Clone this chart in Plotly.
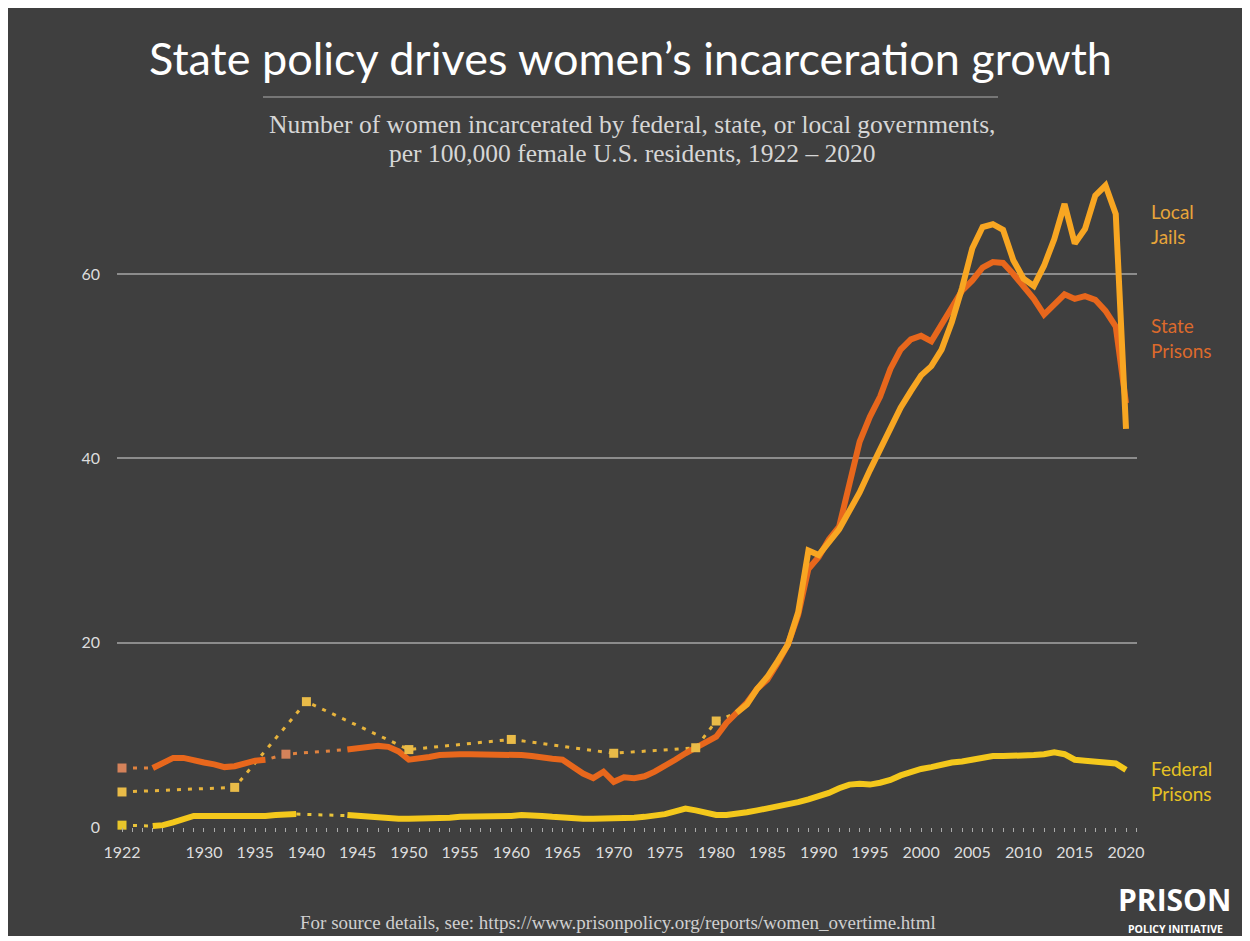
import plotly.graph_objects as go

# ---------------- data (per 100,000 female U.S. residents) ----------------
state_years_a = list(range(1925, 1937))
state_vals_a = [6.4, 7.0, 7.5, 7.5, 7.2, 7.0, 6.8, 6.5, 6.6, 6.9, 7.2, 7.3]
state_years_b = list(range(1944, 2021))
state_vals_b = [8.4, 8.5, 8.6, 8.8, 8.7, 8.2,
                7.3, 7.4, 7.6, 7.8, 7.9, 7.9, 7.9, 7.9, 7.8, 7.8,
                7.8, 7.8, 7.7, 7.5, 7.4, 7.3, 6.6, 5.8, 5.3, 6.0,
                4.9, 5.4, 5.3, 5.5, 6.0, 6.6, 7.3, 8.0, 8.6, 9.1,
                9.8, 11.3, 12.4, 13.5, 15.0, 16.0, 17.8, 19.8, 23.0, 28.0,
                29.3, 31.2, 32.6, 37.5, 41.8, 44.5, 46.7, 49.7, 51.8, 52.9,
                53.3, 52.7, 54.5, 56.6, 58.2, 59.3, 60.7, 61.3, 61.2, 60.0,
                58.7, 57.3, 55.6, 56.8, 57.8, 57.3, 57.6, 57.2, 56.0, 54.3, 46.0]
state_point_years = [1922, 1938]
state_point_vals = [6.4, 7.9]

federal_years_a = list(range(1925, 1940))
federal_vals_a = [0.1, 0.2, 0.5, 0.9, 1.2, 1.2, 1.2, 1.1, 1.1, 1.1, 1.2, 1.2, 1.3, 1.3, 1.4]
federal_years_b = list(range(1944, 2021))
federal_vals_b = [1.3, 1.2, 1.1, 1.0, 1.0, 0.9,
                  0.9, 0.9, 0.9, 1.0, 1.0, 1.1, 1.1, 1.1, 1.2, 1.2,
                  1.2, 1.3, 1.3, 1.2, 1.1, 1.0, 1.0, 0.9, 0.9, 0.9,
                  0.9, 1.0, 1.0, 1.1, 1.2, 1.4, 1.7, 2.0, 1.8, 1.5,
                  1.3, 1.3, 1.4, 1.6, 1.8, 2.0, 2.3, 2.5, 2.7, 3.0,
                  3.3, 3.7, 4.2, 4.6, 4.7, 4.6, 4.8, 5.1, 5.6, 6.0,
                  6.3, 6.5, 6.8, 7.0, 7.1, 7.3, 7.5, 7.7, 7.7, 7.7,
                  7.7, 7.8, 7.9, 8.1, 7.9, 7.3, 7.2, 7.1, 7.0, 6.9, 6.2]
federal_point_years = [1922]
federal_point_vals = [0.2]

jail_point_years = [1922, 1933, 1940, 1950, 1960, 1970, 1978, 1980]
jail_point_vals = [3.8, 4.3, 13.6, 8.4, 9.5, 8.0, 8.6, 11.5]
jail_years = list(range(1982, 2021))
jail_vals = [12.4, 13.3, 15.0, 16.3, 18.0, 19.8, 23.3, 30.0,
             29.5, 31.0, 32.3, 34.3, 36.3, 38.7, 40.9, 43.1, 45.5, 47.3,
             49.0, 50.0, 51.8, 54.8, 58.5, 62.8, 65.1, 65.4, 64.8, 61.5,
             59.5, 58.7, 60.9, 63.8, 67.6, 63.3, 64.9, 68.5, 69.6, 66.5, 43.2]

x_tick_vals = [1922, 1930, 1935, 1940, 1945, 1950, 1955, 1960, 1965, 1970,
               1975, 1980, 1985, 1990, 1995, 2000, 2005, 2010, 2015, 2020]
y_tick_vals = [0, 20, 40, 60]
y_grid_vals = [20, 40, 60]

# ---------------- styling ----------------
OFF = 8                      # page margin of the browser
W, H = 1235, 928
PL, PR, PT, PB = 117, 1137, 170, 840   # plot area in reference pixels
L, R, T, B = PL - OFF, W - (PR - OFF), PT - OFF, H - (PB - OFF)
BG = "#3f3f3f"
C_STATE = "#e8671c"
C_JAIL = "#f8a622"
C_FED = "#f4c81c"


def px2x(px):
    return (px - OFF - L) / (W - L - R)


def py2y(py):
    return (H - B - (py - OFF)) / (H - T - B)


def all_points(*pairs):
    pts = []
    for ys, vs in pairs:
        pts.extend(zip(ys, vs))
    pts.sort()
    return [p[0] for p in pts], [p[1] for p in pts]


fig = go.Figure()

# dotted connectors through every data point (visible only across gaps)
for pairs, col in [
    ([(state_point_years, state_point_vals), (state_years_a, state_vals_a), (state_years_b, state_vals_b)], "#e0823f"),
    ([(federal_point_years, federal_point_vals), (federal_years_a, federal_vals_a), (federal_years_b, federal_vals_b)], "#e9c43a"),
    ([(jail_point_years, jail_point_vals), (jail_years[:1], jail_vals[:1])], "#e8b43c"),
]:
    xs, ys = all_points(*pairs)
    fig.add_trace(go.Scatter(x=xs, y=ys, mode="lines", hoverinfo="skip", showlegend=False,
                             line=dict(color=col, width=3, dash="4px,7px")))

# solid lines
for ys_, vs_, col in [
    (federal_years_a, federal_vals_a, C_FED),
    (federal_years_b, federal_vals_b, C_FED),
    (state_years_a, state_vals_a, C_STATE),
    (state_years_b, state_vals_b, C_STATE),
    (jail_years, jail_vals, C_JAIL),
]:
    fig.add_trace(go.Scatter(x=ys_, y=vs_, mode="lines", showlegend=False,
                             line=dict(color=col, width=6)))

# isolated survey markers
for ys_, vs_, col in [
    (state_point_years, state_point_vals, "#d5825a"),
    (federal_point_years, federal_point_vals, "#e8c62a"),
    (jail_point_years, jail_point_vals, "#e9bb48"),
]:
    fig.add_trace(go.Scatter(x=ys_, y=vs_, mode="markers", showlegend=False,
                             marker=dict(symbol="square", size=9, color=col, line=dict(width=0))))

x0 = 1922 - 5 / 10.245
x1 = x0 + (PR - PL) / 10.245
ppu = (827 - 274) / 60.0
y1 = (827 - PT) / ppu
y0 = -(PB - 827) / ppu

fig.update_layout(
    width=W, height=H,
    margin=dict(l=L, r=R, t=T, b=B, pad=0),
    paper_bgcolor=BG,
    plot_bgcolor=BG,
    font=dict(family="Lato", color="#dddddd"),
    xaxis=dict(range=[x0, x1], tickmode="array", tickvals=x_tick_vals,
               ticks="outside", ticklen=4, tickwidth=1, tickcolor="#aaaaaa",
               showgrid=False, zeroline=False, showline=False,
               anchor="free", position=py2y(827),
               tickfont=dict(family="Lato", size=16, color="#dddddd"),
               ticklabelstandoff=7,
               minor=dict(tick0=1922, dtick=1, ticks="outside", ticklen=4,
                          tickcolor="#aaaaaa", showgrid=False)),
    yaxis=dict(range=[y0, y1], tickmode="array", tickvals=y_tick_vals,
               showgrid=False, zeroline=False, showline=False, ticks="",
               tickfont=dict(family="Lato", size=16, color="#dddddd"),
               ticklabelstandoff=16,
               minor=dict(tickmode="array", tickvals=y_grid_vals, showgrid=True,
                          gridcolor="#8c8c8c", gridwidth=1.5, ticks="")),
    shapes=[
        dict(type="line", xref="paper", yref="paper",
             x0=px2x(263), x1=px2x(998), y0=py2y(97), y1=py2y(97),
             line=dict(color="#8a8a8a", width=1.5)),
    ],
)

ann = []
ann.append(dict(text="State policy drives women’s incarceration growth",
                x=px2x(630), y=py2y(58), font=dict(family="Lato", size=45, color="#ffffff")))
ann.append(dict(text="Number of women incarcerated by federal, state, or local governments,",
                x=px2x(632), y=py2y(124), font=dict(family="Liberation Serif", size=25.5, color="#d6d6d6")))
ann.append(dict(text="per 100,000 female U.S. residents, 1922 – 2020",
                x=px2x(632), y=py2y(154), font=dict(family="Liberation Serif", size=25.5, color="#d6d6d6")))
ann.append(dict(text="For source details, see: https://www.prisonpolicy.org/reports/women_overtime.html",
                x=px2x(618), y=py2y(923), font=dict(family="Liberation Serif", size=19, color="#d0d0d0")))
ann.append(dict(text="<b>PRISON</b>", x=px2x(1174), y=py2y(899),
                font=dict(family="Open Sans", size=30, color="#ffffff")))
ann.append(dict(text="<b>POLICY INITIATIVE</b>", x=px2x(1175), y=py2y(929),
                font=dict(family="Open Sans", size=10.5, color="#ffffff")))
for txt, yc, col in [("Local<br>Jails", 224, "#e7a53a"),
                     ("State<br>Prisons", 338, "#dc6a2c"),
                     ("Federal<br>Prisons", 781, "#e6c224")]:
    ann.append(dict(text=txt, x=px2x(1149), y=py2y(yc), xanchor="left", align="left",
                    font=dict(family="Lato", size=19, color=col)))

for a in ann:
    a.setdefault("xanchor", "center")
    a.update(xref="paper", yref="paper", yanchor="middle", showarrow=False)
fig.update_layout(annotations=ann)

fig.write_html("out.html")
